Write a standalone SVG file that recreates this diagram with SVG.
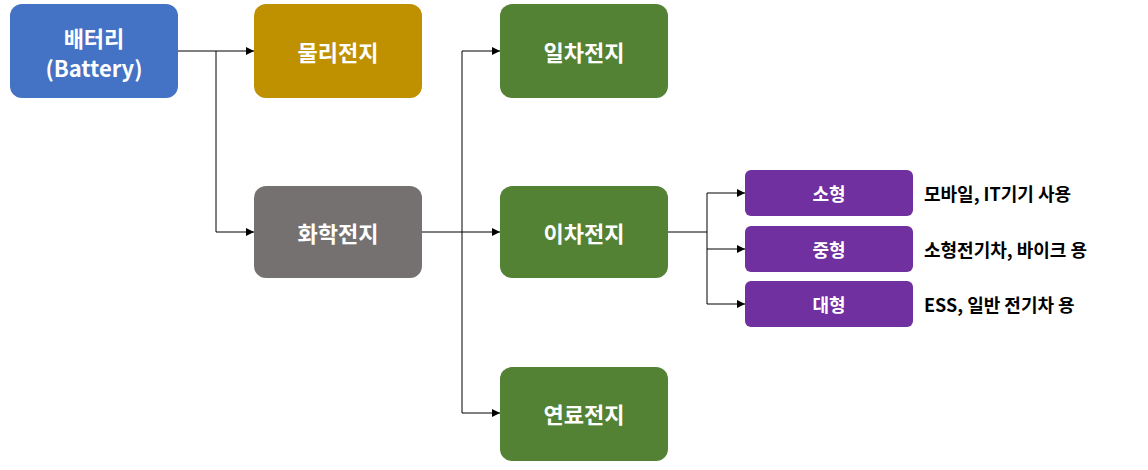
<svg xmlns="http://www.w3.org/2000/svg" width="1148" height="470" viewBox="0 0 1148 470">
<style>
.n{stroke:none}
.t{font-family:"Noto Sans CJK KR","Noto Sans",sans-serif;font-weight:bold;fill:#fff;text-anchor:middle;dominant-baseline:central}
.big{font-size:22px}
.sm{font-size:18px}
.lbl{font-family:"Noto Sans CJK KR","Noto Sans",sans-serif;font-weight:bold;font-size:18px;fill:#000;dominant-baseline:central}
.c{fill:none;stroke:#000;stroke-width:1}
</style>
<defs><marker id="a" markerWidth="8" markerHeight="8" refX="8" refY="4" orient="auto" markerUnits="userSpaceOnUse"><path d="M0,0L8,4L0,8z" fill="#000"/></marker></defs>
<rect width="1148" height="470" fill="#fff"/>
<g id="connectors">
<path class="c" d="M178,51H216V232H254" marker-end="url(#a)"/>
<path class="c" d="M216,51H254" marker-end="url(#a)"/>
<path class="c" d="M422,232H500" marker-end="url(#a)"/>
<path class="c" d="M462,232V51H500" marker-end="url(#a)"/>
<path class="c" d="M462,232V413H500" marker-end="url(#a)"/>
<path class="c" d="M668,232H707V193H745" marker-end="url(#a)"/>
<path class="c" d="M707,232V249H745" marker-end="url(#a)"/>
<path class="c" d="M707,249V304H745" marker-end="url(#a)"/>
</g>
<g id="battery"><rect x="10" y="4" width="168" height="94" rx="12" fill="#4472C4"/><text class="t big" x="94" y="37">배터리</text><text class="t big" x="94" y="67">(Battery)</text></g>
<g id="physical"><rect x="254" y="4" width="168" height="94" rx="12" fill="#BF9000"/><text class="t big" x="338" y="51">물리전지</text></g>
<g id="chemical"><rect x="254" y="186" width="168" height="92" rx="12" fill="#767171"/><text class="t big" x="338" y="232">화학전지</text></g>
<g id="primary"><rect x="500" y="4" width="168" height="94" rx="12" fill="#548235"/><text class="t big" x="584" y="51">일차전지</text></g>
<g id="secondary"><rect x="500" y="186" width="168" height="92" rx="12" fill="#548235"/><text class="t big" x="584" y="232">이차전지</text></g>
<g id="fuel"><rect x="500" y="367" width="168" height="94" rx="12" fill="#548235"/><text class="t big" x="584" y="413">연료전지</text></g>
<g id="small"><rect x="745" y="170" width="168" height="46" rx="6" fill="#7030A0"/><text class="t sm" x="829" y="193">소형</text><text class="lbl" x="924" y="193">모바일, IT기기 사용</text></g>
<g id="medium"><rect x="745" y="226" width="168" height="46" rx="6" fill="#7030A0"/><text class="t sm" x="829" y="249">중형</text><text class="lbl" x="924" y="249">소형전기차, 바이크 용</text></g>
<g id="large"><rect x="745" y="281" width="168" height="46" rx="6" fill="#7030A0"/><text class="t sm" x="829" y="304">대형</text><text class="lbl" x="924" y="304">ESS, 일반 전기차 용</text></g>
</svg>
